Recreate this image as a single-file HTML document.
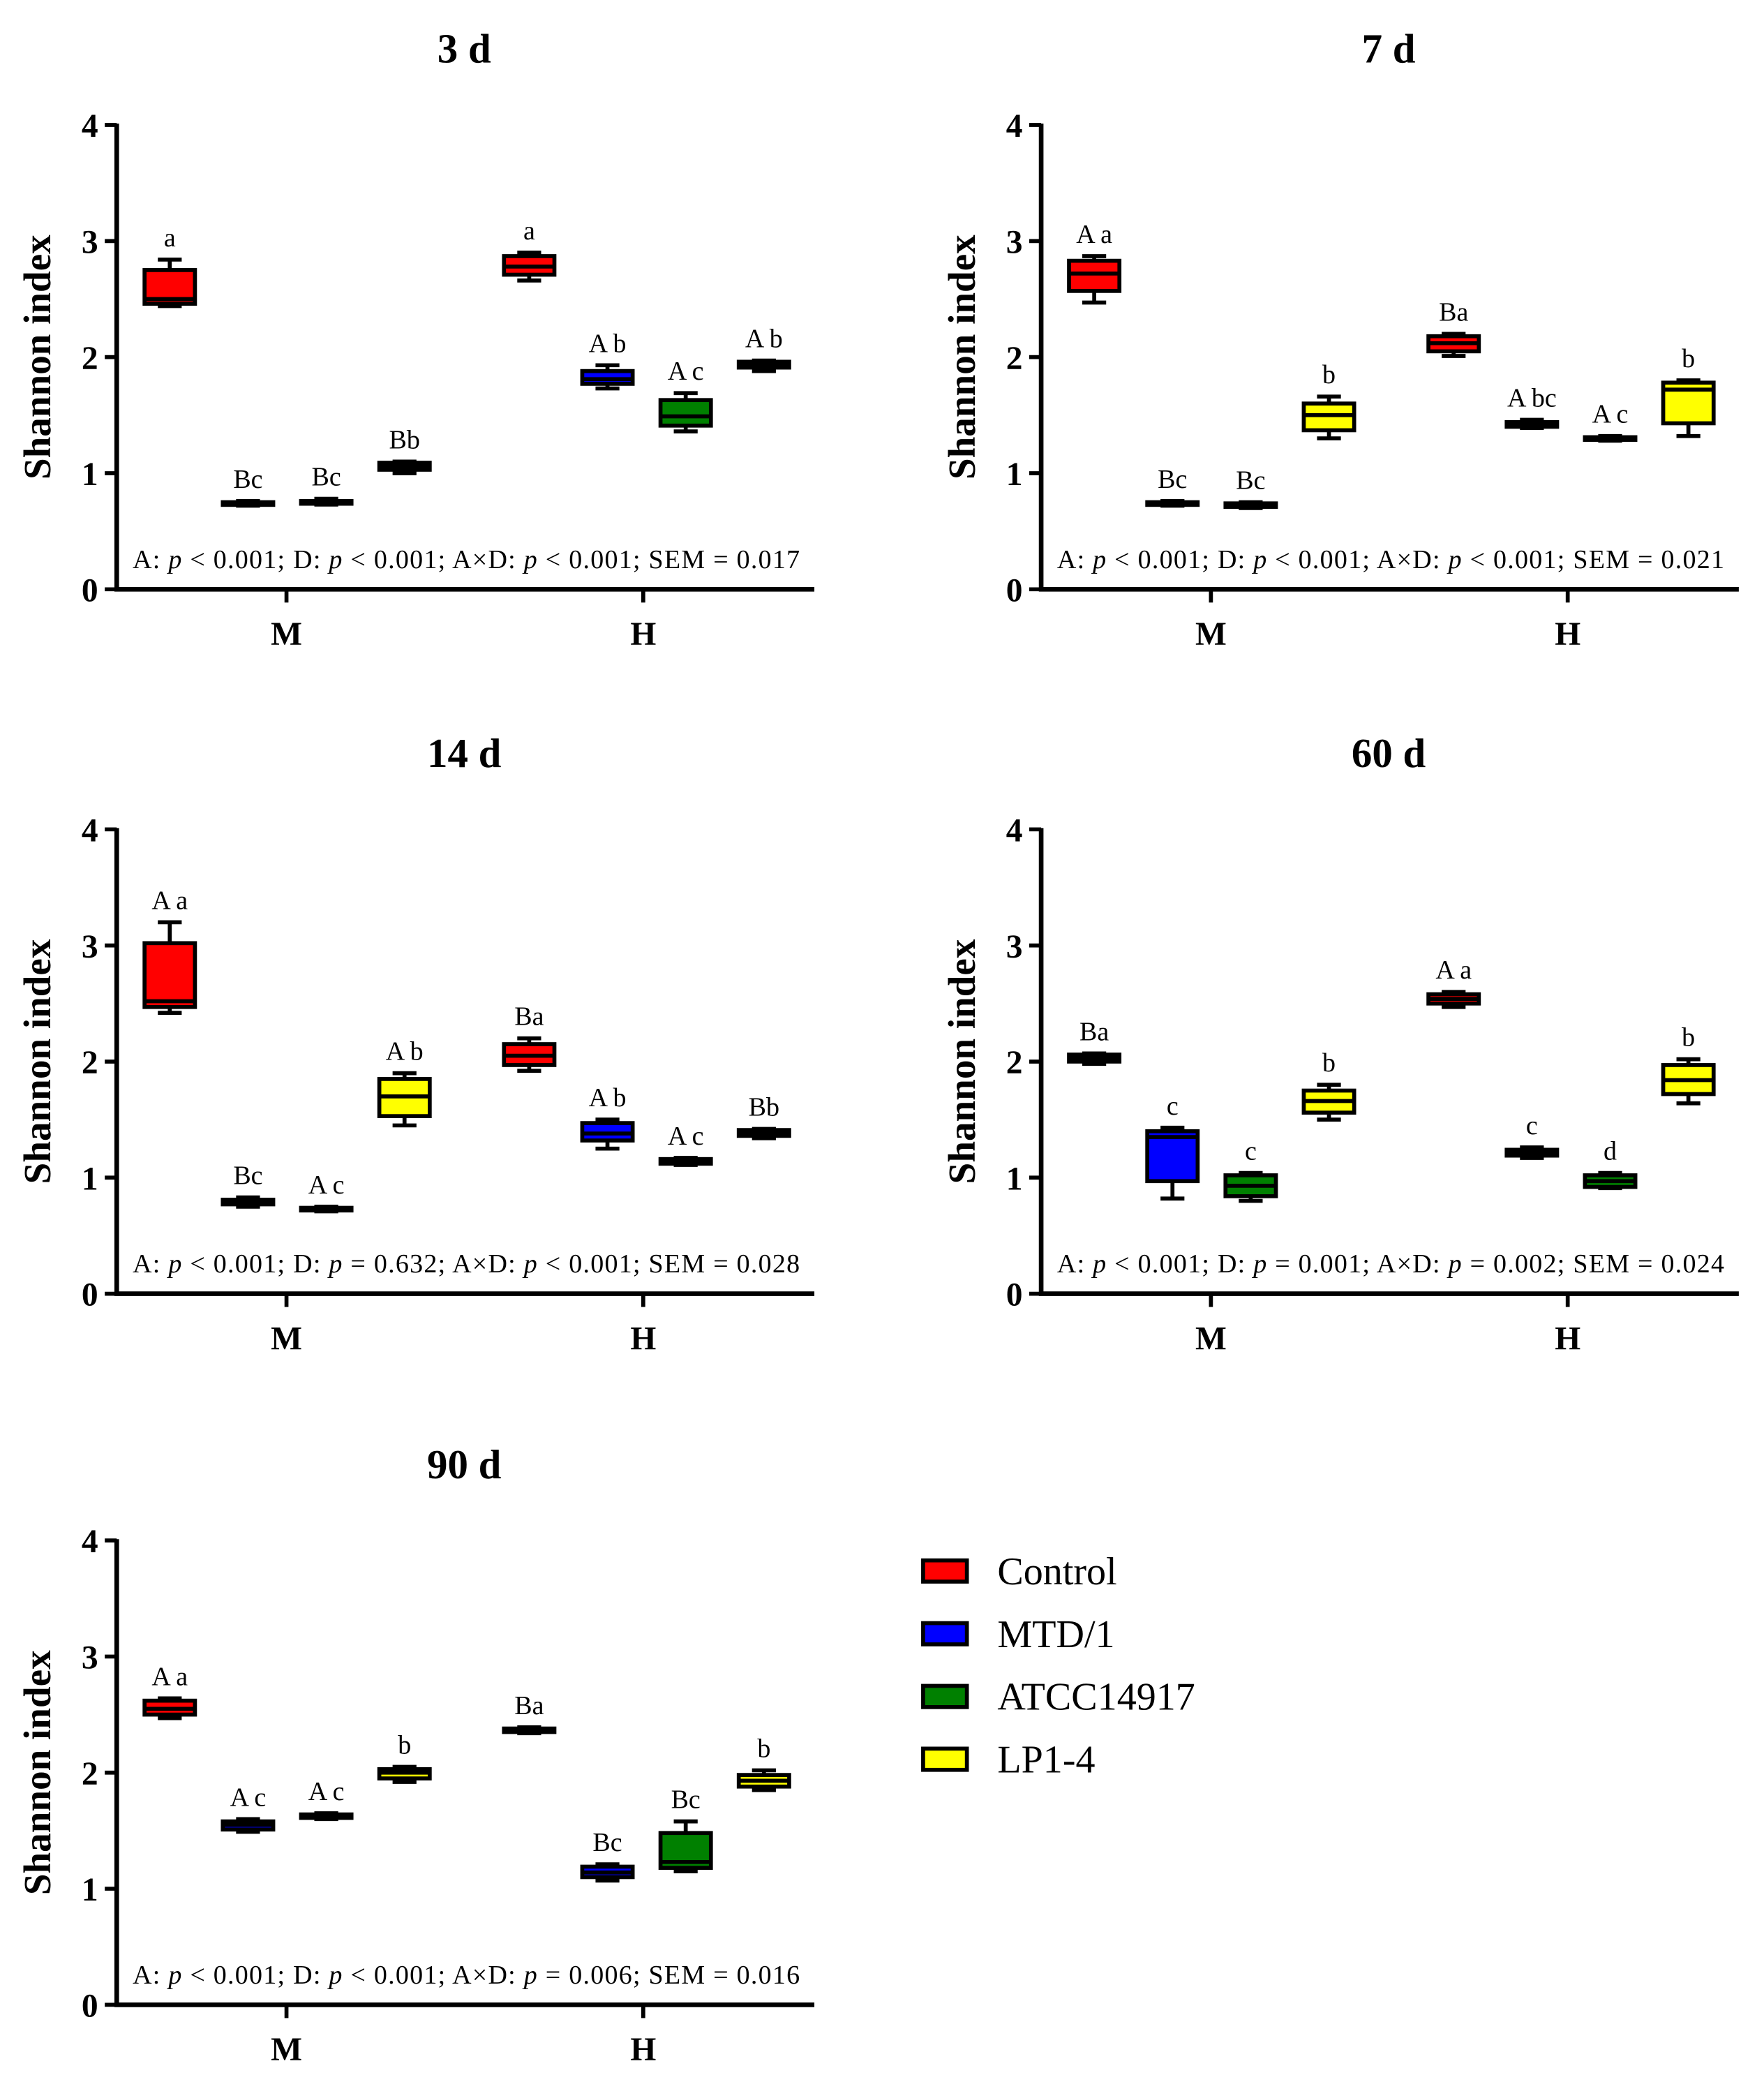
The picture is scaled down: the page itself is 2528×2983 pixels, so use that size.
<!DOCTYPE html>
<html><head><meta charset="utf-8">
<style>html,body{margin:0;padding:0;background:#fff}svg{display:block}</style></head>
<body>
<svg id="fig" xmlns="http://www.w3.org/2000/svg" width="2528" height="2983" viewBox="0 0 1330 1569" font-family="'Liberation Serif', serif"></svg>
<script>
const panelTitles = ["3 d","7 d","14 d","60 d","90 d"];
const groups = ["Control","MTD/1","ATCC14917","LP1-4"];
const colors = ["#ff0000","#0000ff","#008000","#ffff00"];
const yTicks = [0,1,2,3,4];
const data3 = [[2.44,2.46,2.50,2.75,2.84],[0.72,0.73,0.74,0.75,0.76],[0.73,0.74,0.75,0.76,0.78],[1.00,1.03,1.06,1.09,1.10],[2.66,2.71,2.78,2.87,2.90],[1.73,1.77,1.81,1.88,1.93],[1.36,1.41,1.49,1.63,1.69],[1.88,1.91,1.93,1.96,1.97]];
const data7 = [[2.47,2.57,2.72,2.83,2.87],[0.72,0.73,0.74,0.75,0.76],[0.70,0.71,0.72,0.74,0.75],[1.30,1.37,1.50,1.60,1.66],[2.01,2.05,2.12,2.18,2.20],[1.39,1.40,1.42,1.44,1.46],[1.28,1.29,1.30,1.31,1.32],[1.32,1.43,1.72,1.78,1.80]];
const data14 = [[2.42,2.47,2.52,3.02,3.20],[0.75,0.77,0.79,0.81,0.83],[0.71,0.72,0.73,0.74,0.75],[1.45,1.53,1.70,1.85,1.90],[1.92,1.97,2.05,2.15,2.20],[1.25,1.32,1.38,1.47,1.50],[1.11,1.12,1.14,1.16,1.17],[1.34,1.36,1.38,1.41,1.42]];
const data60 = [[1.98,2.00,2.03,2.06,2.07],[0.82,0.97,1.35,1.40,1.43],[0.80,0.84,0.93,1.02,1.04],[1.50,1.56,1.66,1.75,1.80],[2.47,2.50,2.54,2.58,2.60],[1.17,1.19,1.21,1.24,1.26],[0.91,0.92,0.97,1.02,1.04],[1.64,1.72,1.84,1.97,2.02]];
const data90 = [[2.47,2.50,2.55,2.62,2.64],[1.49,1.51,1.55,1.58,1.60],[1.60,1.61,1.62,1.64,1.65],[1.92,1.95,2.00,2.03,2.05],[2.34,2.35,2.36,2.38,2.39],[1.07,1.10,1.14,1.19,1.21],[1.15,1.18,1.23,1.48,1.58],[1.85,1.88,1.93,1.98,2.02]];
const labels3 = ["a","Bc","Bc","Bb","a","A b","A c","A b"];
const labels7 = ["A a","Bc","Bc","b","Ba","A bc","A c","b"];
const labels14 = ["A a","Bc","A c","A b","Ba","A b","A c","Bb"];
const labels60 = ["Ba","c","c","b","A a","c","d","b"];
const labels90 = ["A a","A c","A c","b","Ba","Bc","Bc","b"];
const stats = [
 ["< 0.001","< 0.001","< 0.001","0.017"],
 ["< 0.001","< 0.001","< 0.001","0.021"],
 ["< 0.001","= 0.632","< 0.001","0.028"],
 ["< 0.001","= 0.001","= 0.002","0.024"],
 ["< 0.001","< 0.001","= 0.006","0.016"]];
const allData=[data3,data7,data14,data60,data90];
const allLabels=[labels3,labels7,labels14,labels60,labels90];

const NS="http://www.w3.org/2000/svg";
const svg=document.getElementById('fig');
function mk(tag,attrs,parent,text){const e=document.createElementNS(NS,tag);for(const k in attrs)e.setAttribute(k,attrs[k]);if(text!=null)e.textContent=text;(parent||svg).appendChild(e);return e;}

const origins=[[88,444],[785,444],[88,975],[785,975],[88,1511]];
const boxOffsets=[40,99,158,217,311,370,429,488];
const bw=38;
allData.forEach((d,p)=>{
  const [ox,oy]=origins[p];
  const g=mk('g',{});
  
  
  const ys=v=>oy-v*87.5;
  const xs=i=>ox+boxOffsets[i];
  const t=mk('text',{x:ox+262,y:oy-397,'text-anchor':'middle','font-size':31,'font-weight':'bold'},g,panelTitles[p]);
  
  
  const ax=mk('path',{d:`M${ox},${ys(4)-1} V${oy} H${ox+526}`,fill:'none',stroke:'#000','stroke-width':3.5},g);
  
  
  yTicks.forEach(v=>{
    mk('line',{x1:ox-9,x2:ox,y1:ys(v),y2:ys(v),stroke:'#000','stroke-width':3},g);
    const tl=mk('text',{x:ox-14,y:ys(v)+9,'text-anchor':'end','font-size':25,'font-weight':'bold'},g,String(v));
    
    
  });
  [[128,'M'],[397,'H']].forEach(([dx,l])=>{
    mk('line',{x1:ox+dx,x2:ox+dx,y1:oy,y2:oy+10,stroke:'#000','stroke-width':3},g);
    const xl=mk('text',{x:ox+dx,y:oy+42,'text-anchor':'middle','font-size':25,'font-weight':'bold'},g,l);
    
    
  });
  const yt=mk('text',{x:0,y:0,transform:`translate(${ox-50},${ys(2)}) rotate(-90)`,'text-anchor':'middle','font-size':29,'font-weight':'bold'},g,'Shannon index');
  
  
  d.forEach((b,i)=>{
    const cx=xs(i),col=colors[i%4];
    const bg=mk('g',{},g);
    
    
    mk('line',{x1:cx,x2:cx,y1:ys(b[0]),y2:ys(b[4]),stroke:'#000','stroke-width':3},bg);
    mk('line',{x1:cx-9,x2:cx+9,y1:ys(b[0]),y2:ys(b[0]),stroke:'#000','stroke-width':3},bg);
    mk('line',{x1:cx-9,x2:cx+9,y1:ys(b[4]),y2:ys(b[4]),stroke:'#000','stroke-width':3},bg);
    const h=Math.max(ys(b[1])-ys(b[3]),2);
    mk('rect',{x:cx-bw/2,y:ys(b[3]),width:bw,height:h,fill:col,stroke:'#000','stroke-width':3},bg);
    mk('line',{x1:cx-bw/2,x2:cx+bw/2,y1:ys(b[2]),y2:ys(b[2]),stroke:'#000','stroke-width':3},bg);
    const lt=mk('text',{x:cx,y:ys(b[4])-10,'text-anchor':'middle','font-size':20,'xml:space':'preserve'},bg,allLabels[p][i]);
    
    
  });
  const s=stats[p];
  const st=mk('text',{x:ox+12,y:oy-16,'font-size':20,textLength:503,lengthAdjust:'spacing'},g);
  
  
  st.innerHTML=`A: <tspan font-style="italic">p</tspan> ${s[0].replace('<','&lt;')}; D: <tspan font-style="italic">p</tspan> ${s[1].replace('<','&lt;')}; A×D: <tspan font-style="italic">p</tspan> ${s[2].replace('<','&lt;')}; SEM = ${s[3]}`;
});
const lg=mk('g',{});


groups.forEach((n,i)=>{
  const y=1184+i*47.3;
  const e=mk('g',{},lg);
  
  
  mk('rect',{x:696,y:y-8,width:33,height:16,fill:colors[i],stroke:'#000','stroke-width':3},e);
  mk('text',{x:752,y:y+10,'font-size':29.5},e,n);
});
</script>
</body></html>
